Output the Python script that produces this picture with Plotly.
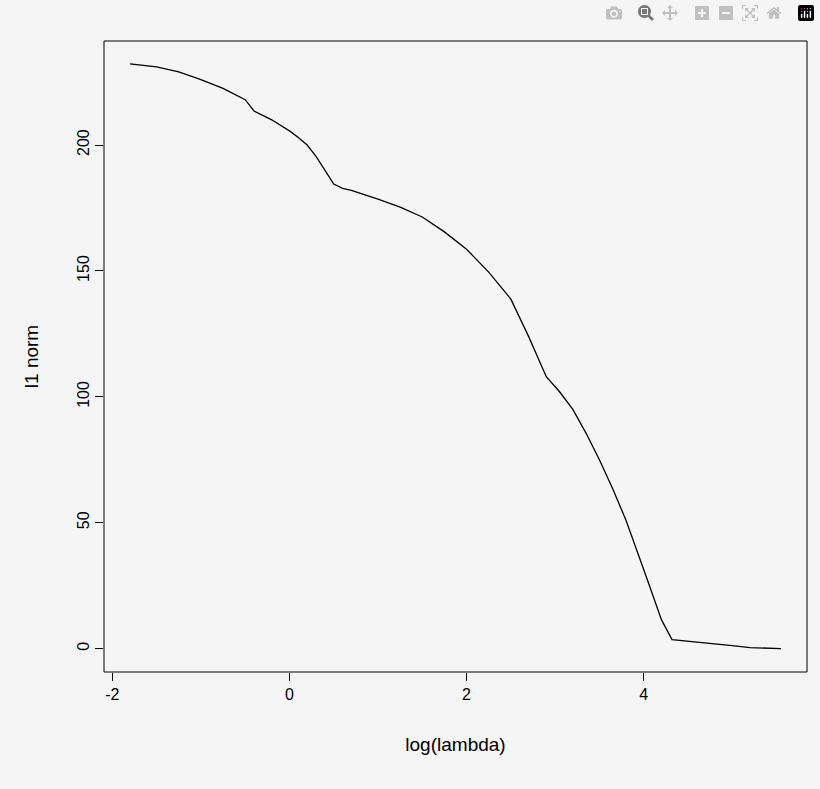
import plotly.graph_objects as go

log_lambda = [-1.8, -1.5, -1.25, -1.0, -0.75, -0.5, -0.4, -0.2, 0.0, 0.1, 0.2, 0.3, 0.4, 0.5, 0.6, 0.7, 1.0, 1.25, 1.5, 1.75, 2.0, 2.25, 2.5, 2.7, 2.9, 3.05, 3.2, 3.35, 3.5, 3.65, 3.8, 3.9, 4.0, 4.1, 4.2, 4.32, 4.7, 5.0, 5.2, 5.55]
l1_norm = [232.2, 231, 229, 226, 222.5, 218, 213.5, 210, 205.6, 203, 200, 195.5, 190, 184.5, 182.8, 182, 178.5, 175.3, 171.4, 165.5, 158.6, 149.5, 138.8, 124, 108, 102, 95, 85.5, 75, 63.5, 51, 41.5, 31.4, 21.5, 11.5, 3.6, 2.4, 1.2, 0.4, 0]
x_ticks = [-2, 0, 2, 4]
x_tick_labels = ["-2", "0", "2", "4"]
y_ticks = [0, 50, 100, 150, 200]

fig = go.Figure(go.Scatter(x=log_lambda, y=l1_norm, mode="lines", line=dict(color="black", width=1.3)))
font = dict(family="Liberation Sans, Arial", size=16, color="black")
fig.update_layout(
    width=820, height=789, paper_bgcolor="#f5f5f5", plot_bgcolor="#f5f5f5",
    margin=dict(l=104, r=13, t=41, b=117), showlegend=False, font=font,
    xaxis=dict(range=[-2.094, 5.844], tickvals=x_ticks, ticktext=x_tick_labels, ticks="outside", ticklen=8, tickcolor="black",
               showgrid=False, zeroline=False, showline=False,
               title=dict(text="log(lambda)", standoff=35), tickfont=font),
    yaxis=dict(range=[-9.28, 241.3], tickvals=y_ticks, ticks="outside", ticklen=8, tickcolor="black",
               showgrid=False, zeroline=False, showline=False, tickangle=-90,
               title=dict(text="l1 norm", standoff=30), tickfont=font),
    shapes=[dict(type="rect", xref="paper", yref="paper", x0=0, x1=1, y0=0, y1=1,
                 line=dict(color="black", width=1))],
)
fig.write_html("out.html")
with open("out.html", encoding="utf-8") as f:
    html = f.read()
html = html.replace("<head>", "<head><style>body{margin:0;background:#f5f5f5}</style>", 1)
with open("out.html", "w", encoding="utf-8") as f:
    f.write(html)
